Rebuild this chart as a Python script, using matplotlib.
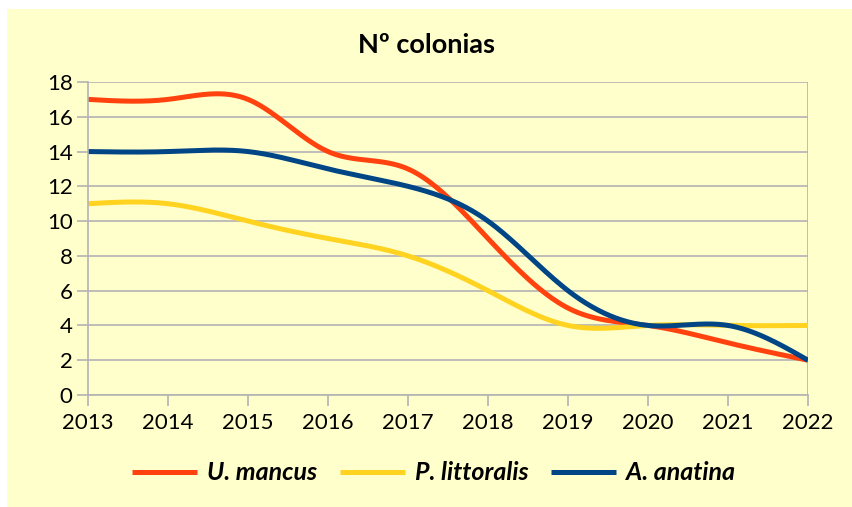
import matplotlib
matplotlib.use("Agg")
import matplotlib.pyplot as plt
import numpy as np

YEARS = [2013, 2014, 2015, 2016, 2017, 2018, 2019, 2020, 2021, 2022]
U_MANCUS = [17, 17, 17, 14, 13, 9, 5, 4, 3, 2]
P_LITTORALIS = [11, 11, 10, 9, 8, 6, 4, 4, 4, 4]
A_ANATINA = [14, 14, 14, 13, 12, 10, 6, 4, 4, 2]

SERIES = [("U. mancus", U_MANCUS, "#ff420e"),
          ("P. littoralis", P_LITTORALIS, "#ffd320"),
          ("A. anatina", A_ANATINA, "#004586")]


def natural_spline(x, y, n=40):
    # natural cubic spline, used only to draw the smoothed line style
    x = np.asarray(x, float)
    y = np.asarray(y, float)
    k = len(x)
    h = np.diff(x)
    A = np.zeros((k, k))
    b = np.zeros(k)
    A[0, 0] = A[-1, -1] = 1
    for i in range(1, k - 1):
        A[i, i - 1] = h[i - 1]
        A[i, i] = 2 * (h[i - 1] + h[i])
        A[i, i + 1] = h[i]
        b[i] = 6 * ((y[i + 1] - y[i]) / h[i] - (y[i] - y[i - 1]) / h[i - 1])
    m = np.linalg.solve(A, b)
    xs, ys = [], []
    for i in range(k - 1):
        t = np.linspace(x[i], x[i + 1], n, endpoint=(i == k - 2))
        a = (x[i + 1] - t) / h[i]
        c = (t - x[i]) / h[i]
        s = (a * y[i] + c * y[i + 1]
             + ((a ** 3 - a) * m[i] + (c ** 3 - c) * m[i + 1]) * h[i] ** 2 / 6)
        xs.append(t)
        ys.append(s)
    return np.concatenate(xs), np.concatenate(ys)


plt.rcParams["font.family"] = ["Lato", "DejaVu Sans"]

fig = plt.figure(figsize=(8.53, 5.07), dpi=100)
fig.patch.set_facecolor("white")
bg = plt.Rectangle((7 / 853, 0), 1 - 7 / 853, 1 - 9 / 507, transform=fig.transFigure,
                   facecolor="#ffffcc", edgecolor="none", zorder=-10)
fig.patches.append(bg)

ax = fig.add_axes([88 / 853, 1 - 395 / 507, 720 / 853, 313 / 507])
ax.set_facecolor("#ffffcc")

for name, vals, col in SERIES:
    xs, ys = natural_spline(YEARS, vals)
    ax.plot(xs, ys, color=col, lw=3.6, label=name, solid_capstyle="butt")

ax.set_xlim(YEARS[0], YEARS[-1])
ax.set_ylim(0, 18)
ax.set_xticks(YEARS)
ax.set_yticks(range(0, 19, 2))
ax.grid(axis="y", color="#b3b3b3", lw=1.2)
ax.set_axisbelow(True)
for side in ("top", "right"):
    ax.spines[side].set_visible(False)
for side in ("left", "bottom"):
    ax.spines[side].set_color("#b3b3b3")
    ax.spines[side].set_linewidth(1.2)
ax.tick_params(axis="both", colors="#b3b3b3", width=1.2, length=8, labelcolor="black",
               labelsize=16)
ax.tick_params(axis="x", pad=5)
ax.tick_params(axis="y", pad=3)
# right-hand border line at 2022
ax.axvline(YEARS[-1], color="#b3b3b3", lw=1.2, zorder=0)

fig.text(0.5, 1 - 45 / 507, "Nº colonias", ha="center", va="center",
         fontsize=19.5, fontweight="bold")

leg = fig.legend(loc="center", bbox_to_anchor=(0.508, 1 - 473 / 507), ncol=3,
                 frameon=False, handlelength=2.6, columnspacing=0.9, handletextpad=0.4,
                 prop={"size": 18, "style": "italic", "weight": "bold"})

fig.savefig("out.png", dpi=100, facecolor="white")
